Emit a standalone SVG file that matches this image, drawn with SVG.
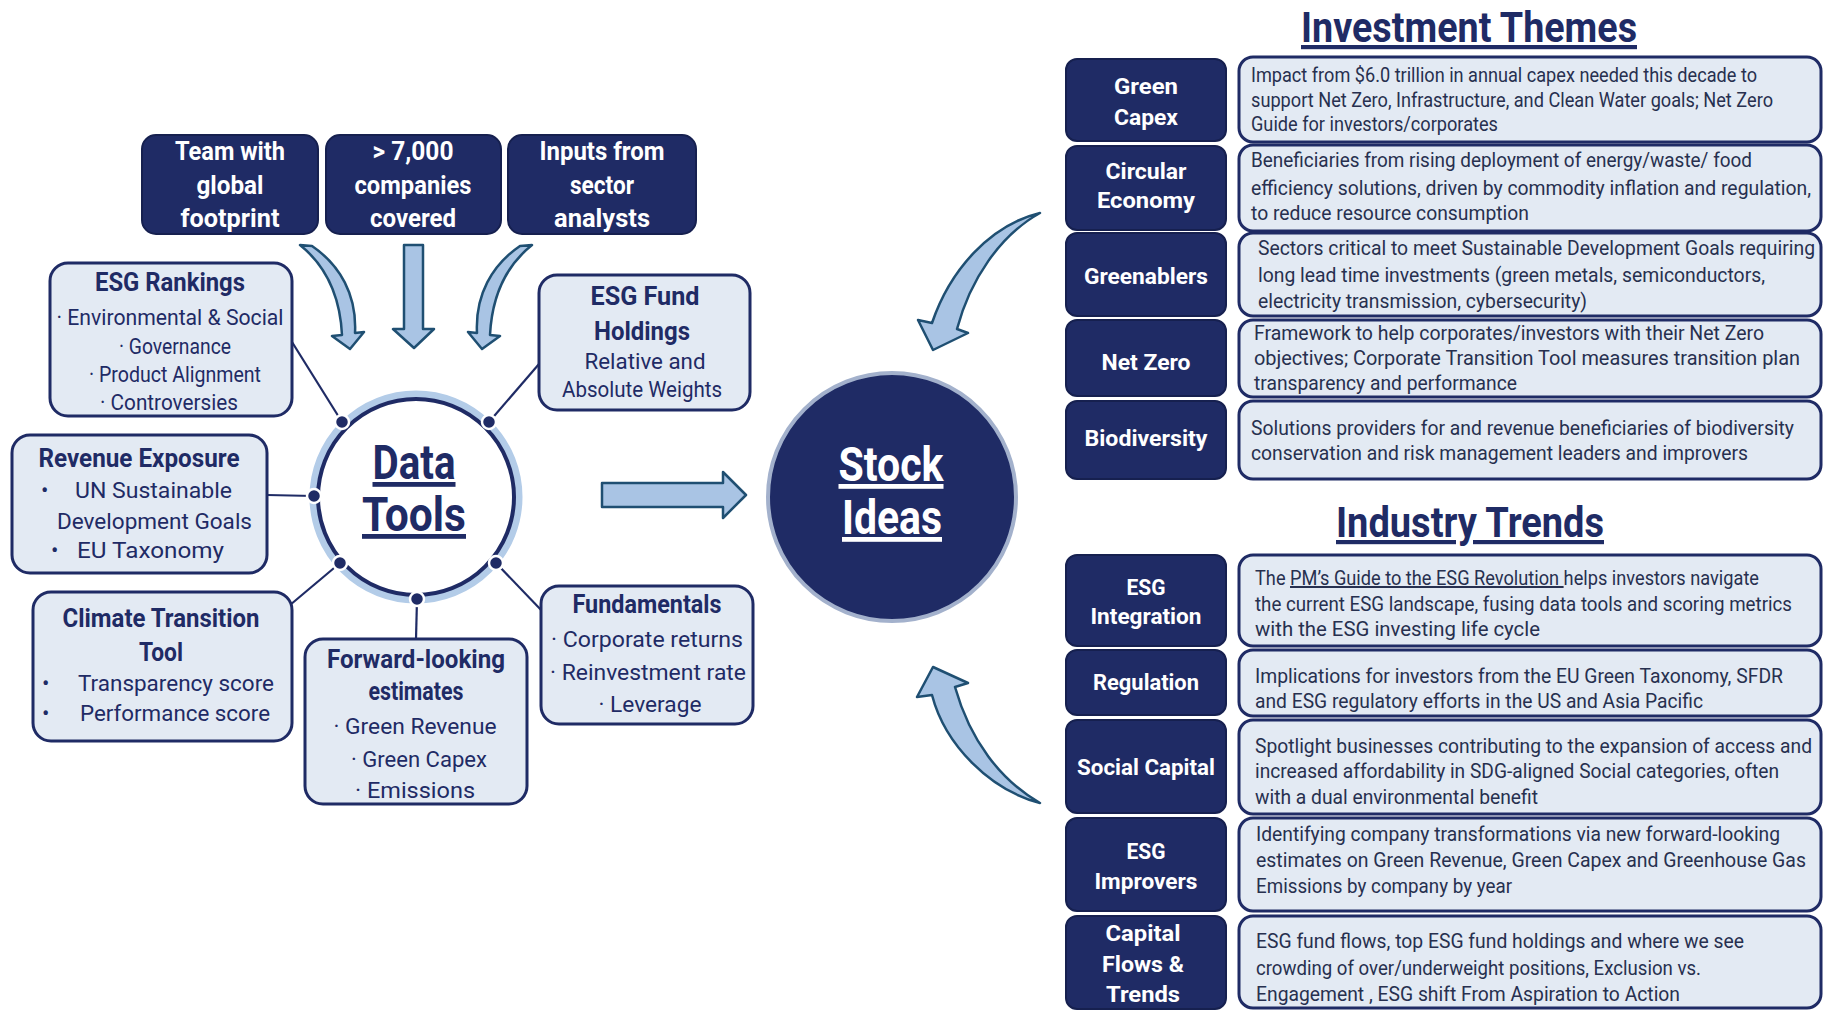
<svg xmlns="http://www.w3.org/2000/svg" width="1827" height="1010" viewBox="0 0 1827 1010">
<style>
text{font-family:Roboto,"Liberation Sans",sans-serif}
.dk{fill:#1f2b65;stroke:#16204f;stroke-width:2}
.lt{fill:#e3eaf3;stroke:#1f2b65;stroke-width:3}
.wt{fill:#ffffff;font-weight:bold;font-size:25px;text-anchor:middle}
.wl{fill:#ffffff;font-weight:bold;font-size:22px;text-anchor:middle}
.tt{fill:#1f2b65;font-weight:bold;font-size:25px;text-anchor:middle}
.it{fill:#1f2b65;font-size:22px;text-anchor:middle}
.itl{fill:#1f2b65;font-size:22px}
.ds{fill:#27304f;font-size:20px}
.hd{fill:#1f2b65;font-weight:bold;font-size:42px;text-anchor:middle;text-decoration:underline}
.arr{fill:#a9c4e4;stroke:#1f4f72;stroke-width:2.5;stroke-linejoin:round}
.ln{stroke:#1f2b65;stroke-width:2.2;fill:none}
.dot{fill:#1f2b65;stroke:#ffffff;stroke-width:2.5}
</style>

<g id="connectors">
<line class="ln" x1="292" y1="342" x2="342" y2="422"/>
<line class="ln" x1="539" y1="364" x2="489" y2="422"/>
<line class="ln" x1="267" y1="495" x2="314" y2="496"/>
<line class="ln" x1="290" y1="605" x2="340" y2="563"/>
<line class="ln" x1="416" y1="639" x2="417" y2="599"/>
<line class="ln" x1="543" y1="612" x2="496" y2="563"/>
<path class="arr" d="M300,245 L312,246 C340,265 357,295 355,333 L364,332 L350,349 L332,336 L342,335 C340,295 325,265 300,245 Z"/>
<path class="arr" d="M404,245 H423 V329 H434 L414,348 L393,329 H404 Z"/>
<path class="arr" d="M532,245 L520,246 C492,265 475,295 477,333 L468,332 L482,349 L500,336 L490,335 C492,295 507,265 532,245 Z"/>
<path class="arr" d="M602,483 H723 V472 L746,495 L723,518 V507 H602 Z"/>
<path class="arr" d="M1040,213 C990,225 950,270 932,323 L918,320 L933,350 L968,333 L957,329 C970,280 1000,235 1040,213 Z"/>
<path class="arr" d="M1040,803 C990,790 945,745 932,695 L917,697 L933,667 L968,683 L955,687 C970,740 1000,780 1040,803 Z"/>
</g>

<g id="team">
<rect class="dk" x="142" y="135" width="176" height="99" rx="14"/>
<text class="wt" x="230" y="160" textLength="110" lengthAdjust="spacingAndGlyphs">Team with</text>
<text class="wt" x="230" y="194" textLength="67" lengthAdjust="spacingAndGlyphs">global</text>
<text class="wt" x="230" y="227" textLength="99" lengthAdjust="spacingAndGlyphs">footprint</text>
</g>
<g id="companies">
<rect class="dk" x="326" y="135" width="175" height="99" rx="14"/>
<text class="wt" x="413" y="160" textLength="81" lengthAdjust="spacingAndGlyphs">&gt; 7,000</text>
<text class="wt" x="413" y="194" textLength="117" lengthAdjust="spacingAndGlyphs">companies</text>
<text class="wt" x="413" y="227" textLength="86" lengthAdjust="spacingAndGlyphs">covered</text>
</g>
<g id="inputs">
<rect class="dk" x="508" y="135" width="188" height="99" rx="14"/>
<text class="wt" x="602" y="160" textLength="125" lengthAdjust="spacingAndGlyphs">Inputs from</text>
<text class="wt" x="602" y="194" textLength="64" lengthAdjust="spacingAndGlyphs">sector</text>
<text class="wt" x="602" y="227" textLength="96" lengthAdjust="spacingAndGlyphs">analysts</text>
</g>

<g id="esg-rankings">
<rect class="lt" x="50" y="263" width="242" height="153" rx="18"/>
<text class="tt" x="170" y="291" textLength="150" lengthAdjust="spacingAndGlyphs">ESG Rankings</text>
<text class="it" x="170" y="325" textLength="227" lengthAdjust="spacingAndGlyphs">· Environmental &amp; Social</text>
<text class="it" x="175" y="354" textLength="112" lengthAdjust="spacingAndGlyphs">· Governance</text>
<text class="it" x="175" y="382" textLength="172" lengthAdjust="spacingAndGlyphs">· Product Alignment</text>
<text class="it" x="169" y="410" textLength="138" lengthAdjust="spacingAndGlyphs">· Controversies</text>
</g>

<g id="esg-fund">
<rect class="lt" x="539" y="275" width="211" height="135" rx="18"/>
<text class="tt" x="645" y="305" textLength="109" lengthAdjust="spacingAndGlyphs">ESG Fund</text>
<text class="tt" x="642" y="340" textLength="96" lengthAdjust="spacingAndGlyphs">Holdings</text>
<text class="it" x="645" y="369" textLength="121" lengthAdjust="spacingAndGlyphs">Relative and</text>
<text class="it" x="642" y="397" textLength="160" lengthAdjust="spacingAndGlyphs">Absolute Weights</text>
</g>

<g id="revenue">
<rect class="lt" x="12" y="435" width="255" height="138" rx="18"/>
<text class="tt" x="139" y="467" textLength="201" lengthAdjust="spacingAndGlyphs">Revenue Exposure</text>
<text class="itl" x="41" y="498">•</text>
<text class="itl" x="75" y="498" textLength="157" lengthAdjust="spacingAndGlyphs">UN Sustainable</text>
<text class="itl" x="57" y="529" textLength="195" lengthAdjust="spacingAndGlyphs">Development Goals</text>
<text class="itl" x="51" y="558">•</text>
<text class="itl" x="77" y="558" textLength="147" lengthAdjust="spacingAndGlyphs">EU Taxonomy</text>
</g>

<g id="climate">
<rect class="lt" x="33" y="592" width="259" height="149" rx="18"/>
<text class="tt" x="161" y="627" textLength="197" lengthAdjust="spacingAndGlyphs">Climate Transition</text>
<text class="tt" x="161" y="661" textLength="44" lengthAdjust="spacingAndGlyphs">Tool</text>
<text class="itl" x="42" y="691">•</text>
<text class="itl" x="78" y="691" textLength="196" lengthAdjust="spacingAndGlyphs">Transparency score</text>
<text class="itl" x="42" y="721">•</text>
<text class="itl" x="80" y="721" textLength="190" lengthAdjust="spacingAndGlyphs">Performance score</text>
</g>

<g id="forward">
<rect class="lt" x="305" y="639" width="222" height="165" rx="18"/>
<text class="tt" x="416" y="668" textLength="178" lengthAdjust="spacingAndGlyphs">Forward-looking</text>
<text class="tt" x="416" y="700" textLength="95" lengthAdjust="spacingAndGlyphs">estimates</text>
<text class="it" x="415" y="734" textLength="163" lengthAdjust="spacingAndGlyphs">· Green Revenue</text>
<text class="it" x="419" y="767" textLength="136" lengthAdjust="spacingAndGlyphs">· Green Capex</text>
<text class="it" x="415" y="798" textLength="120" lengthAdjust="spacingAndGlyphs">· Emissions</text>
</g>

<g id="fundamentals">
<rect class="lt" x="541" y="586" width="212" height="138" rx="18"/>
<text class="tt" x="647" y="613" textLength="149" lengthAdjust="spacingAndGlyphs">Fundamentals</text>
<text class="it" x="647" y="647" textLength="192" lengthAdjust="spacingAndGlyphs">· Corporate returns</text>
<text class="it" x="648" y="680" textLength="196" lengthAdjust="spacingAndGlyphs">· Reinvestment rate</text>
<text class="it" x="650" y="712" textLength="103" lengthAdjust="spacingAndGlyphs">· Leverage</text>
</g>

<g id="data-tools">
<circle cx="416" cy="497" r="102" fill="#ffffff" stroke="#b3cce8" stroke-width="9"/>
<circle cx="416" cy="497" r="98" fill="#ffffff" stroke="#1f2b65" stroke-width="4"/>
<text x="414" y="479" fill="#1f2b65" font-weight="bold" font-size="48" text-anchor="middle" text-decoration="underline" textLength="83" lengthAdjust="spacingAndGlyphs">Data</text>
<text x="414" y="531" fill="#1f2b65" font-weight="bold" font-size="48" text-anchor="middle" text-decoration="underline" textLength="104" lengthAdjust="spacingAndGlyphs">Tools</text>
<circle class="dot" cx="342" cy="422" r="7"/>
<circle class="dot" cx="489" cy="422" r="7"/>
<circle class="dot" cx="314" cy="496" r="7"/>
<circle class="dot" cx="340" cy="563" r="7"/>
<circle class="dot" cx="417" cy="599" r="7"/>
<circle class="dot" cx="496" cy="563" r="7"/>
</g>

<g id="stock-ideas">
<circle cx="892" cy="497" r="124" fill="#1f2b65" stroke="#a3b1cc" stroke-width="4"/>
<text x="891" y="481" fill="#ffffff" font-weight="bold" font-size="48" text-anchor="middle" text-decoration="underline" textLength="105" lengthAdjust="spacingAndGlyphs">Stock</text>
<text x="892" y="534" fill="#ffffff" font-weight="bold" font-size="48" text-anchor="middle" text-decoration="underline" textLength="100" lengthAdjust="spacingAndGlyphs">Ideas</text>
</g>

<g id="investment-themes-title">
<text class="hd" x="1469" y="42" textLength="336" lengthAdjust="spacingAndGlyphs">Investment Themes</text>
</g>

<g id="green-capex">
<rect class="dk" x="1066" y="59" width="160" height="82" rx="11"/>
<text class="wl" x="1146" y="94" textLength="64" lengthAdjust="spacingAndGlyphs">Green</text>
<text class="wl" x="1146" y="125" textLength="64" lengthAdjust="spacingAndGlyphs">Capex</text>
<rect class="lt" x="1239" y="57" width="582" height="85" rx="14"/>
<text class="ds" x="1251" y="82" textLength="506" lengthAdjust="spacingAndGlyphs">Impact from $6.0 trillion in annual capex needed this decade to</text>
<text class="ds" x="1251" y="107" textLength="522" lengthAdjust="spacingAndGlyphs">support Net Zero, Infrastructure, and Clean Water goals; Net Zero</text>
<text class="ds" x="1251" y="131" textLength="247" lengthAdjust="spacingAndGlyphs">Guide for investors/corporates</text>
</g>

<g id="circular-economy">
<rect class="dk" x="1066" y="146" width="160" height="84" rx="11"/>
<text class="wl" x="1146" y="179" textLength="81" lengthAdjust="spacingAndGlyphs">Circular</text>
<text class="wl" x="1146" y="208" textLength="98" lengthAdjust="spacingAndGlyphs">Economy</text>
<rect class="lt" x="1239" y="145" width="582" height="86" rx="14"/>
<text class="ds" x="1251" y="167" textLength="501" lengthAdjust="spacingAndGlyphs">Beneficiaries from rising deployment of energy/waste/ food</text>
<text class="ds" x="1251" y="195" textLength="560" lengthAdjust="spacingAndGlyphs">efficiency solutions, driven by commodity inflation and regulation,</text>
<text class="ds" x="1251" y="220" textLength="278" lengthAdjust="spacingAndGlyphs">to reduce resource consumption</text>
</g>

<g id="greenablers">
<rect class="dk" x="1066" y="233" width="160" height="83" rx="11"/>
<text class="wl" x="1146" y="284" textLength="124" lengthAdjust="spacingAndGlyphs">Greenablers</text>
<rect class="lt" x="1239" y="233" width="582" height="83" rx="14"/>
<text class="ds" x="1258" y="255" textLength="557" lengthAdjust="spacingAndGlyphs">Sectors critical to meet Sustainable Development Goals requiring</text>
<text class="ds" x="1258" y="282" textLength="507" lengthAdjust="spacingAndGlyphs">long lead time investments (green metals, semiconductors,</text>
<text class="ds" x="1258" y="308" textLength="329" lengthAdjust="spacingAndGlyphs">electricity transmission, cybersecurity)</text>
</g>

<g id="net-zero">
<rect class="dk" x="1066" y="320" width="160" height="76" rx="11"/>
<text class="wl" x="1146" y="370" textLength="89" lengthAdjust="spacingAndGlyphs">Net Zero</text>
<rect class="lt" x="1239" y="320" width="582" height="77" rx="14"/>
<text class="ds" x="1254" y="340" textLength="510" lengthAdjust="spacingAndGlyphs">Framework to help corporates/investors with their Net Zero</text>
<text class="ds" x="1254" y="365" textLength="546" lengthAdjust="spacingAndGlyphs">objectives; Corporate Transition Tool measures transition plan</text>
<text class="ds" x="1254" y="390" textLength="263" lengthAdjust="spacingAndGlyphs">transparency and performance</text>
</g>

<g id="biodiversity">
<rect class="dk" x="1066" y="401" width="160" height="78" rx="11"/>
<text class="wl" x="1146" y="446" textLength="123" lengthAdjust="spacingAndGlyphs">Biodiversity</text>
<rect class="lt" x="1239" y="401" width="582" height="78" rx="14"/>
<text class="ds" x="1251" y="435" textLength="543" lengthAdjust="spacingAndGlyphs">Solutions providers for and revenue beneficiaries of biodiversity</text>
<text class="ds" x="1251" y="460" textLength="497" lengthAdjust="spacingAndGlyphs">conservation and risk management leaders and improvers</text>
</g>

<g id="industry-trends-title">
<text class="hd" x="1470" y="537" textLength="268" lengthAdjust="spacingAndGlyphs">Industry Trends</text>
</g>

<g id="esg-integration">
<rect class="dk" x="1066" y="555" width="160" height="91" rx="11"/>
<text class="wl" x="1146" y="595" textLength="39" lengthAdjust="spacingAndGlyphs">ESG</text>
<text class="wl" x="1146" y="624" textLength="111" lengthAdjust="spacingAndGlyphs">Integration</text>
<rect class="lt" x="1239" y="555" width="582" height="91" rx="14"/>
<text class="ds" x="1255" y="585" textLength="504" lengthAdjust="spacingAndGlyphs">The <tspan text-decoration="underline">PM’s Guide to the ESG Revolution </tspan>helps investors navigate</text>
<text class="ds" x="1255" y="611" textLength="537" lengthAdjust="spacingAndGlyphs">the current ESG landscape, fusing data tools and scoring metrics</text>
<text class="ds" x="1255" y="636" textLength="285" lengthAdjust="spacingAndGlyphs">with the ESG investing life cycle</text>
</g>

<g id="regulation">
<rect class="dk" x="1066" y="650" width="160" height="65" rx="11"/>
<text class="wl" x="1146" y="690" textLength="106" lengthAdjust="spacingAndGlyphs">Regulation</text>
<rect class="lt" x="1239" y="650" width="582" height="66" rx="14"/>
<text class="ds" x="1255" y="683" textLength="528" lengthAdjust="spacingAndGlyphs">Implications for investors from the EU Green Taxonomy, SFDR</text>
<text class="ds" x="1255" y="708" textLength="448" lengthAdjust="spacingAndGlyphs">and ESG regulatory efforts in the US and Asia Pacific</text>
</g>

<g id="social-capital">
<rect class="dk" x="1066" y="720" width="160" height="93" rx="11"/>
<text class="wl" x="1146" y="775" textLength="138" lengthAdjust="spacingAndGlyphs">Social Capital</text>
<rect class="lt" x="1239" y="720" width="582" height="94" rx="14"/>
<text class="ds" x="1255" y="753" textLength="557" lengthAdjust="spacingAndGlyphs">Spotlight businesses contributing to the expansion of access and</text>
<text class="ds" x="1255" y="778" textLength="524" lengthAdjust="spacingAndGlyphs">increased affordability in SDG-aligned Social categories, often</text>
<text class="ds" x="1255" y="804" textLength="283" lengthAdjust="spacingAndGlyphs">with a dual environmental benefit</text>
</g>

<g id="esg-improvers">
<rect class="dk" x="1066" y="818" width="160" height="93" rx="11"/>
<text class="wl" x="1146" y="859" textLength="39" lengthAdjust="spacingAndGlyphs">ESG</text>
<text class="wl" x="1146" y="889" textLength="103" lengthAdjust="spacingAndGlyphs">Improvers</text>
<rect class="lt" x="1239" y="818" width="582" height="93" rx="14"/>
<text class="ds" x="1256" y="841" textLength="524" lengthAdjust="spacingAndGlyphs">Identifying company transformations via new forward-looking</text>
<text class="ds" x="1256" y="867" textLength="550" lengthAdjust="spacingAndGlyphs">estimates on Green Revenue, Green Capex and Greenhouse Gas</text>
<text class="ds" x="1256" y="893" textLength="256" lengthAdjust="spacingAndGlyphs">Emissions by company by year</text>
</g>

<g id="capital-flows">
<rect class="dk" x="1066" y="916" width="160" height="93" rx="11"/>
<text class="wl" x="1143" y="941" textLength="75" lengthAdjust="spacingAndGlyphs">Capital</text>
<text class="wl" x="1143" y="972" textLength="82" lengthAdjust="spacingAndGlyphs">Flows &amp;</text>
<text class="wl" x="1143" y="1002" textLength="74" lengthAdjust="spacingAndGlyphs">Trends</text>
<rect class="lt" x="1239" y="916" width="582" height="92" rx="14"/>
<text class="ds" x="1256" y="948" textLength="488" lengthAdjust="spacingAndGlyphs">ESG fund flows, top ESG fund holdings and where we see</text>
<text class="ds" x="1256" y="975" textLength="445" lengthAdjust="spacingAndGlyphs">crowding of over/underweight positions, Exclusion vs.</text>
<text class="ds" x="1256" y="1001" textLength="424" lengthAdjust="spacingAndGlyphs">Engagement , ESG shift From Aspiration to Action</text>
</g>
</svg>
